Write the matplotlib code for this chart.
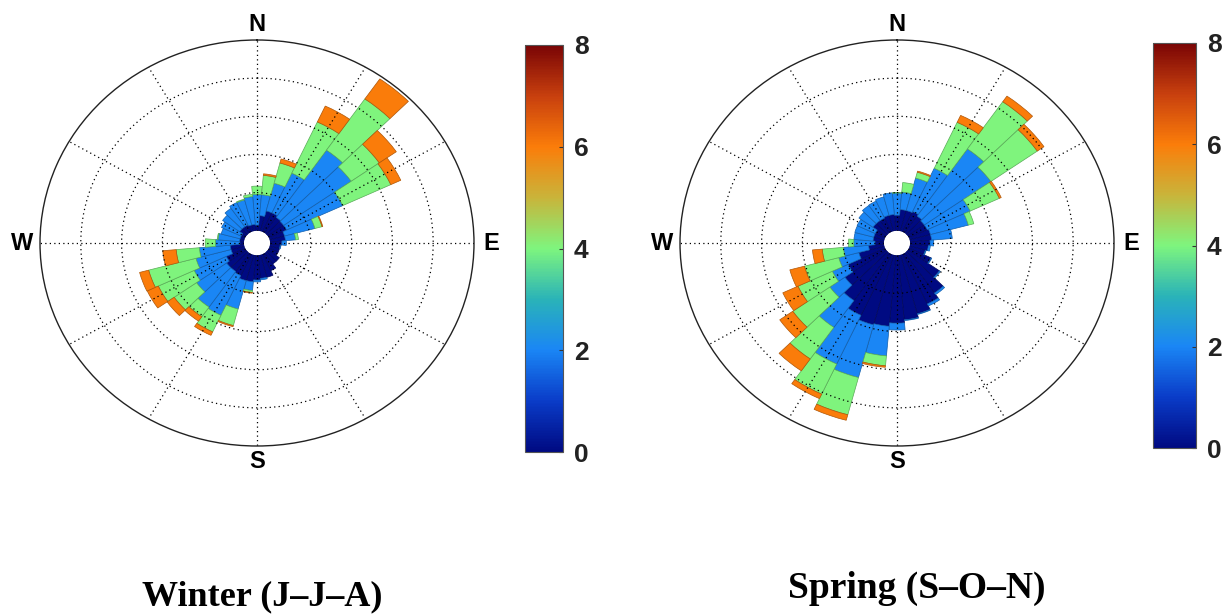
import numpy as np
import matplotlib
matplotlib.use("Agg")
import matplotlib.pyplot as plt
from matplotlib.colors import LinearSegmentedColormap, Normalize, to_rgb
from matplotlib.cm import ScalarMappable

# Direction bins (degrees clockwise from north, 10-degree sectors)
directions = list(range(0, 360, 10))

# Wind-speed classes (m/s) and colour-bar ticks
speed_edges = [0, 2, 4, 6, 8]
cbar_ticks = [0, 2, 4, 6, 8]

# Frequency (%) per direction for each speed class -- Winter (J-J-A)
winter_0_2 = [0.15, 0.40, 0.55, 0.55, 0.50, 0.48, 0.48, 0.38, 0.38, 0.29, 0.25, 0.25,
              0.25, 0.35, 0.35, 0.48, 0.61, 0.61, 0.65, 0.70, 0.70, 0.62, 0.59, 0.59,
              0.51, 0.34, 0.34, 0.10, 0.11, 0.11, 0.11, 0.20, 0.20, 0.20, 0.17, 0.17]
winter_2_4 = [0.80, 0.55, 0.75, 1.15, 2.15, 2.02, 1.52, 0.77, 0.25, 0.11, 0.02, 0.00,
              0.00, 0.00, 0.00, 0.00, 0.00, 0.04, 0.05, 0.23, 0.77, 1.15, 1.14, 0.90,
              0.87, 0.89, 0.76, 0.60, 0.53, 0.48, 0.53, 0.51, 0.59, 0.65, 0.68, 0.73]
winter_4_6 = [0.22, 0.51, 0.55, 1.48, 1.64, 0.84, 1.30, 0.18, 0.07, 0.00, 0.00, 0.00,
              0.00, 0.00, 0.00, 0.00, 0.00, 0.00, 0.00, 0.05, 0.45, 0.48, 0.31, 0.67,
              0.97, 1.20, 0.57, 0.25, 0.02, 0.00, 0.00, 0.00, 0.00, 0.00, 0.02, 0.06]
winter_6_8 = [0.00, 0.04, 0.11, 0.46, 0.64, 0.51, 0.27, 0.02, 0.00, 0.00, 0.00, 0.00,
              0.00, 0.00, 0.00, 0.00, 0.00, 0.00, 0.00, 0.02, 0.03, 0.10, 0.14, 0.21,
              0.30, 0.23, 0.33, 0.00, 0.00, 0.00, 0.00, 0.00, 0.00, 0.00, 0.00, 0.00]

# Frequency (%) per direction for each speed class -- Spring (S-O-N)
spring_0_2 = [0.41, 0.56, 0.56, 0.59, 0.54, 0.50, 0.50, 0.53, 0.53, 0.49, 0.45, 0.40,
              0.60, 0.95, 1.28, 1.44, 1.60, 1.70, 1.78, 1.87, 1.90, 1.77, 1.52, 1.24,
              1.00, 0.65, 0.38, 0.22, 0.27, 0.27, 0.27, 0.40, 0.40, 0.40, 0.43, 0.43]
spring_2_4 = [0.58, 0.46, 0.88, 1.25, 2.15, 1.99, 1.16, 0.96, 0.51, 0.09, 0.05, 0.02,
              0.02, 0.03, 0.05, 0.06, 0.02, 0.02, 0.18, 0.78, 1.43, 1.41, 0.86, 0.45,
              0.43, 0.51, 0.62, 0.52, 0.47, 0.48, 0.49, 0.42, 0.48, 0.49, 0.50, 0.57]
spring_4_6 = [0.01, 0.25, 0.16, 1.33, 1.51, 1.39, 0.79, 0.14, 0.00, 0.00, 0.00, 0.00,
              0.00, 0.00, 0.00, 0.00, 0.00, 0.00, 0.00, 0.26, 1.01, 0.87, 1.01, 1.11,
              0.93, 0.87, 0.52, 0.13, 0.00, 0.00, 0.00, 0.00, 0.00, 0.00, 0.00, 0.00]
spring_6_8 = [0.00, 0.00, 0.03, 0.20, 0.18, 0.20, 0.05, 0.00, 0.00, 0.00, 0.00, 0.00,
              0.00, 0.00, 0.00, 0.00, 0.00, 0.00, 0.00, 0.04, 0.15, 0.13, 0.38, 0.39,
              0.41, 0.37, 0.24, 0.00, 0.00, 0.00, 0.00, 0.00, 0.00, 0.00, 0.00, 0.00]

season_titles = ["Winter (J\u2013J\u2013A)", "Spring (S\u2013O\u2013N)"]
compass_labels = ["N", "E", "S", "W"]

FIG_W, FIG_H = 1232, 615

# Speed colour scale
cmap = LinearSegmentedColormap.from_list(
    "wind_speed",
    [(0.000, "#000a82"), (0.125, "#0a3cc8"), (0.250, "#1a86f5"),
     (0.375, "#2ab3b8"), (0.500, "#7ef57e"), (0.625, "#c9b43a"),
     (0.750, "#fb7d0a"), (0.875, "#c8400e"), (1.000, "#7a0505")])
norm = Normalize(vmin=speed_edges[0], vmax=speed_edges[-1])


def darker(color, f=0.7):
    r, g, b = to_rgb(color)
    return (r * f, g * f, b * f)


def px_rect(x0, y0, w, h):
    """Pixel box (top-left origin) -> figure-fraction rect."""
    return [x0 / FIG_W, 1 - (y0 + h) / FIG_H, w / FIG_W, h / FIG_H]


def draw_rose(ax, classes):
    theta = np.deg2rad(directions)
    width = np.deg2rad(10)
    bottom = np.zeros(len(directions))
    for lower, vals in zip(speed_edges[:-1], classes):
        vals = np.asarray(vals, dtype=float)
        face = cmap(norm(lower))
        m = vals > 0
        ax.bar(theta[m], vals[m], width=width, bottom=bottom[m], align="center",
               color=face, edgecolor=darker(face), linewidth=0.5, zorder=1)
        bottom += vals

    ax.set_theta_zero_location("N")
    ax.set_theta_direction(-1)
    ax.set_rorigin(-0.32)
    ax.set_ylim(0, 5)
    ax.set_aspect("auto")
    ax.set_thetagrids(range(0, 360, 30), labels=[])
    ax.set_rgrids([1, 2, 3, 4], labels=[])
    ax.grid(True, color="black", linestyle=(0, (1, 2.6)), linewidth=0.9)
    ax.spines["polar"].set_linewidth(1.0)
    ax.spines["polar"].set_edgecolor("#222222")
    ax.spines["inner"].set_edgecolor("none")

    lab_kw = dict(transform=ax.transAxes, ha="center", va="center",
                  fontsize=17, fontweight="bold", family="Liberation Sans")
    pos = {"N": (0.5, 1.037), "E": (1.039, 0.5), "S": (0.5, -0.038), "W": (-0.042, 0.5)}
    for lab in compass_labels:
        ax.text(*pos[lab], lab, **lab_kw)


def draw_cbar(rect):
    cax = fig.add_axes(rect)
    cb = fig.colorbar(ScalarMappable(norm=norm, cmap=cmap), cax=cax, ticks=cbar_ticks)
    cb.outline.set_edgecolor("#555555")
    cb.outline.set_linewidth(0.8)
    cax.tick_params(direction="in", length=3, width=0.8, colors="#333333",
                    labelcolor="#222222", pad=8)
    for t in cax.get_yticklabels():
        t.set_fontsize(19)
        t.set_fontweight("bold")
        t.set_family("Liberation Sans")


fig = plt.figure(figsize=(FIG_W / 100, FIG_H / 100), dpi=100)

RX, RY = 217, 203
ax_w = fig.add_axes(px_rect(257 - RX, 243 - RY, 2 * RX, 2 * RY), projection="polar")
draw_rose(ax_w, [winter_0_2, winter_2_4, winter_4_6, winter_6_8])

ax_s = fig.add_axes(px_rect(897 - RX, 243 - RY, 2 * RX, 2 * RY), projection="polar")
draw_rose(ax_s, [spring_0_2, spring_2_4, spring_4_6, spring_6_8])

draw_cbar(px_rect(525, 45, 38, 407))
draw_cbar(px_rect(1153, 43, 43, 405))

title_kw = dict(ha="center", va="baseline", fontweight="bold", family="Liberation Serif")
fig.text(262 / FIG_W, 1 - 605 / FIG_H, season_titles[0], fontsize=26, **title_kw)
fig.text(917 / FIG_W, 1 - 598 / FIG_H, season_titles[1], fontsize=27, **title_kw)

fig.savefig("out.png", dpi=100, facecolor="white")
